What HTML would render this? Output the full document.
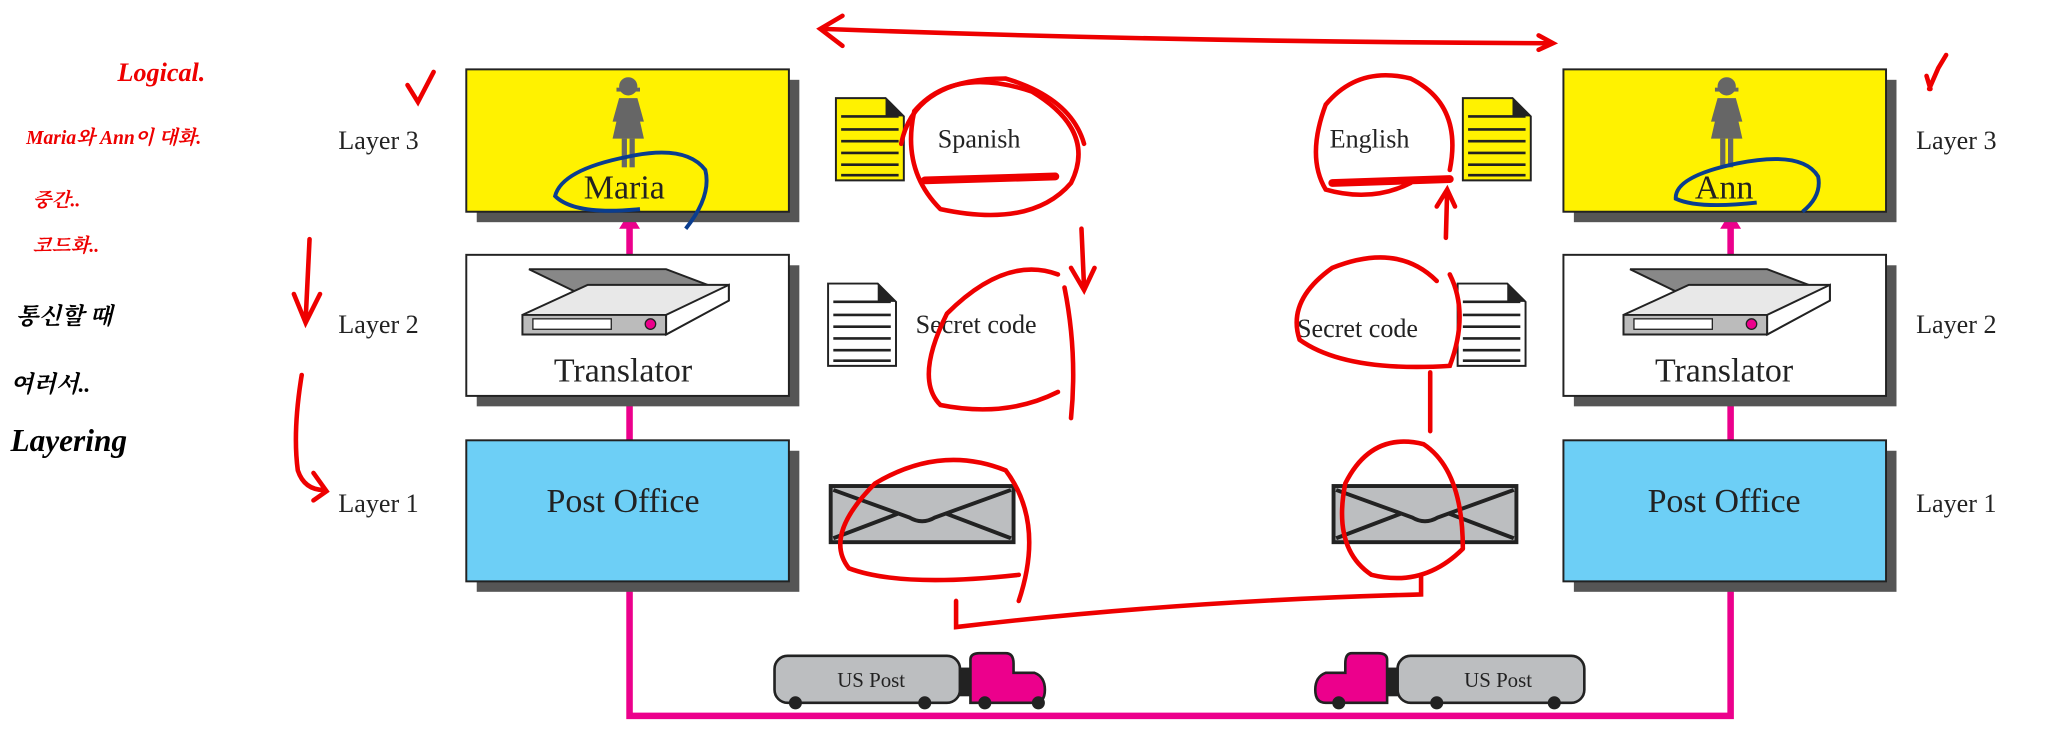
<!DOCTYPE html>
<html><head><meta charset="utf-8"><style>
html,body{margin:0;padding:0;background:#fff;}
svg{display:block;}
text{font-family:"Liberation Serif","Noto Serif CJK SC",serif;}
.h{font-family:"Liberation Sans","Noto Sans CJK KR",sans-serif;font-weight:bold;font-style:italic;}
</style></head><body>
<svg width="2048" height="750" viewBox="0 0 1568 574" xmlns="http://www.w3.org/2000/svg">
<defs>
<g id="scan">
<polygon points="-75,-32 30,-32 75,-15 -40,-15" fill="#888" stroke="#222" stroke-width="1.5"/>
<polygon points="-80,3 -30,-20 78,-20 78,-8 30,18 -80,18" fill="#e8e8e8" stroke="#222" stroke-width="1.5"/>
<polygon points="-80,3 30,3 30,18 -80,18" fill="#bbb" stroke="#222" stroke-width="1.5"/>
<polygon points="30,3 78,-20 78,-8 30,18" fill="#fff" stroke="#222" stroke-width="1.5"/>
<rect x="-72" y="6" width="60" height="8" fill="#fff" stroke="#222"/>
<circle cx="18" cy="10" r="4" fill="#ec008c" stroke="#222"/>
</g>
<g id="person" fill="#666">
<circle cx="0" cy="-32" r="7"/>
<rect x="-9" y="-31" width="18" height="3"/>
<path d="M-7,-23 L7,-23 L12,-5 L9,-5 L7,-14 L12,8 L-12,8 L-7,-14 L-9,-5 L-12,-5 Z"/>
<rect x="-5" y="8" width="4" height="22"/><rect x="1" y="8" width="4" height="22"/>
</g>
<g id="env">
<rect x="0" y="0" width="140" height="43" fill="#bcbec0" stroke="#222" stroke-width="3"/>
<path d="M2,3 L60,24 Q70,30 80,24 L138,3 M2,40 L52,21 M138,40 L88,21" fill="none" stroke="#222" stroke-width="3"/>
</g>
<g id="doc">
<path d="M0,0 L38,0 L52,14 L52,63 L0,63 Z" stroke="#222" stroke-width="1.5"/>
<path d="M38,0 L52,14 L38,14 Z" fill="#222"/>
<path d="M4,14 H48 M4,24 H48 M4,33 H48 M4,42 H48 M4,51 H48 M4,59 H48" stroke="#222" stroke-width="2"/>
</g>
</defs>

<g stroke="#ec008c" stroke-width="5" fill="none">
<path d="M482,445 V548 H1325 V445"/>
<path d="M482,303 V337 M482,195 V170 M1325,303 V337 M1325,195 V170"/>
</g>
<path d="M474,175 L482,162 L490,175 Z M1317,175 L1325,162 L1333,175 Z" fill="#ec008c"/>

<g stroke="#222" stroke-width="1.5">
<rect x="365" y="61" width="247" height="109" fill="#555" stroke="none"/>
<rect x="357" y="53" width="247" height="109" fill="#fff200"/>
<rect x="365" y="203" width="247" height="108" fill="#555" stroke="none"/>
<rect x="357" y="195" width="247" height="108" fill="#fff"/>
<rect x="365" y="345" width="247" height="108" fill="#555" stroke="none"/>
<rect x="357" y="337" width="247" height="108" fill="#6dcff6"/>
<rect x="1205" y="61" width="247" height="109" fill="#555" stroke="none"/>
<rect x="1197" y="53" width="247" height="109" fill="#fff200"/>
<rect x="1205" y="203" width="247" height="108" fill="#555" stroke="none"/>
<rect x="1197" y="195" width="247" height="108" fill="#fff"/>
<rect x="1205" y="345" width="247" height="108" fill="#555" stroke="none"/>
<rect x="1197" y="337" width="247" height="108" fill="#6dcff6"/>
</g>
<use href="#person" x="481" y="98"/>
<use href="#person" x="1322" y="98"/>
<use href="#scan" x="480" y="238"/>
<use href="#scan" x="1323" y="238"/>

<g font-size="26" text-anchor="middle" fill="#222">
<text x="478" y="152">Maria</text>
<text x="1320" y="152">Ann</text>
<text x="477" y="292">Translator</text>
<text x="1320" y="292">Translator</text>
<text x="477" y="392">Post Office</text>
<text x="1320" y="392">Post Office</text>
</g>
<g font-size="20" fill="#222">
<text x="259" y="114">Layer 3</text>
<text x="259" y="255">Layer 2</text>
<text x="259" y="392">Layer 1</text>
<text x="1467" y="114">Layer 3</text>
<text x="1467" y="255">Layer 2</text>
<text x="1467" y="392">Layer 1</text>
<text x="718" y="113">Spanish</text>
<text x="701" y="255">Secret code</text>
<text x="1018" y="113">English</text>
<text x="993" y="258">Secret code</text>
</g>

<use href="#doc" x="640" y="75" fill="#fff200"/>
<use href="#doc" x="1120" y="75" fill="#fff200"/>
<use href="#doc" x="634" y="217" fill="#fff"/>
<use href="#doc" x="1116" y="217" fill="#fff"/>
<use href="#env" x="636" y="372"/>
<use href="#env" x="1021" y="372"/>

<g stroke="#222" stroke-width="2">
<rect x="593" y="502" width="142" height="36" rx="10" fill="#bcbec0"/>
<rect x="735" y="512" width="8" height="20" fill="#222"/>
<path d="M743,505 Q743,500 750,500 L770,500 Q776,500 776,508 L776,515 L792,515 Q800,518 800,528 Q800,538 792,538 L743,538 Z" fill="#ec008c"/>
<rect x="1070" y="502" width="143" height="36" rx="10" fill="#bcbec0"/>
<rect x="1062" y="512" width="8" height="20" fill="#222"/>
<path d="M1062,505 Q1062,500 1055,500 L1035,500 Q1030,500 1030,508 L1030,515 L1015,515 Q1007,518 1007,528 Q1007,538 1015,538 L1062,538 Z" fill="#ec008c"/>
</g>
<g fill="#222"><circle cx="609" cy="538" r="5"/><circle cx="708" cy="538" r="5"/><circle cx="754" cy="538" r="5"/><circle cx="795" cy="538" r="5"/>
<circle cx="1025" cy="538" r="5"/><circle cx="1100" cy="538" r="5"/><circle cx="1190" cy="538" r="5"/></g>
<g font-size="16" fill="#222" text-anchor="middle"><text x="667" y="526">US Post</text><text x="1147" y="526">US Post</text></g>

<g stroke="#0a3d8f" stroke-width="3" fill="none">
<path d="M525,175 Q545,150 540,130 Q525,110 480,120 Q430,130 425,150 Q440,165 490,160"/>
<path d="M1380,162 Q1395,150 1392,135 Q1380,115 1330,125 Q1282,135 1283,152 Q1300,160 1345,155"/>
</g>

<g stroke="#e00" stroke-width="3.5" fill="none" stroke-linecap="round">
<path d="M630,22 Q900,32 1188,33"/><path d="M645,12 L628,22 L645,35 M1178,27 L1189,33 L1178,38"/>
<path d="M720,160 Q690,130 700,85 Q730,50 790,70 Q840,100 820,140 Q790,175 720,160"/>
<path d="M690,110 Q700,60 770,60 Q820,75 830,110"/>
<path d="M708,138 L808,135" stroke-width="6"/>
<path d="M828,175 L830,220 M820,205 L830,222 L838,205"/>
<path d="M810,210 Q770,195 725,240 Q700,290 720,310 Q770,320 810,300 M815,220 Q825,270 820,320"/>
<path d="M780,460 Q800,400 770,360 Q720,340 670,370 Q630,410 650,435 Q690,450 780,440"/>
<path d="M732,460 L732,480 Q900,460 1088,455 L1088,440"/>
<path d="M1110,130 Q1120,80 1080,60 Q1040,50 1015,80 Q1000,120 1015,145 Q1050,155 1080,140"/>
<path d="M1020,140 L1110,137" stroke-width="6"/>
<path d="M1107,182 L1108,145 M1100,158 L1108,145 L1114,158"/>
<path d="M1100,215 Q1070,185 1020,205 Q985,230 995,260 Q1030,285 1110,280 Q1125,240 1110,210"/>
<path d="M1095,285 L1095,330"/>
<path d="M1120,420 Q1120,360 1090,340 Q1050,330 1030,370 Q1020,420 1050,440 Q1090,450 1120,420"/>
<path d="M312,65 L320,78 L332,55"/><path d="M1477,68 L1484,52 L1490,42 M1475,58 L1478,68"/>
<path d="M237,183 L234,245 M225,225 L234,247 L245,225"/>
<path d="M231,287 Q224,330 228,360 Q233,375 248,375 M240,362 L250,376 L240,383"/>
</g>
<g class="h" fill="#e00">
<text x="90" y="62" font-size="20">Logical.</text>
<text x="20" y="110" font-size="15">Maria와 Ann이 대화.</text>
<text x="25" y="158" font-size="15">중간..</text>
<text x="25" y="193" font-size="15">코드화..</text>
</g>
<g class="h" fill="#000">
<text x="12" y="248" font-size="18">통신할 때</text>
<text x="8" y="300" font-size="18">여러서..</text>
<text x="8" y="345" font-size="24">Layering</text>
</g>
</svg>
</body></html>
